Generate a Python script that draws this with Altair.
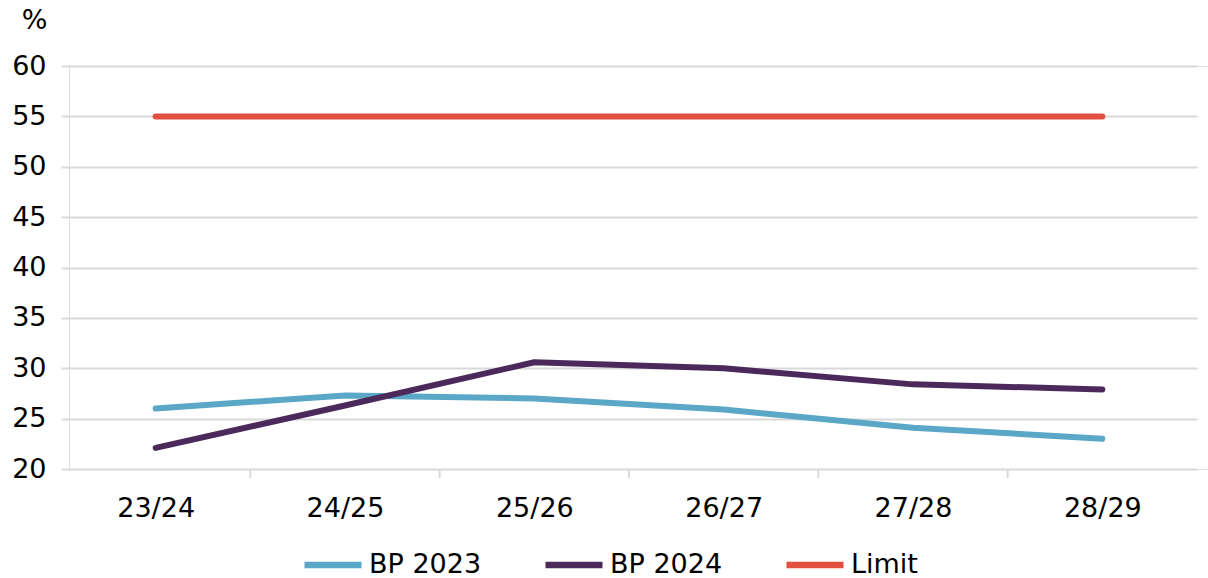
import altair as alt
import pandas as pd

# Fiscal years on the x axis
years = ["23/24", "24/25", "25/26", "26/27", "27/28", "28/29"]

# Series values, percent
bp_2023 = [26.0, 27.3, 27.0, 25.9, 24.1, 23.0]
bp_2024 = [22.1, 26.3, 30.6, 30.0, 28.4, 27.9]
limit = [55, 55, 55, 55, 55, 55]

series_names = ["BP 2023", "BP 2024", "Limit"]
series_colors = ["#5BA7C7", "#4B2A5B", "#E2513F"]

rows = []
for name, values in zip(series_names, [bp_2023, bp_2024, limit]):
    for yr, v in zip(years, values):
        rows.append({"year": yr, "series": name, "value": v})
df = pd.DataFrame(rows)

FONT = "DejaVu Sans"
FS = 27
W, H = 1139, 403

band_range = [-8, 1128]

lines = alt.Chart(df).mark_line(strokeWidth=6, strokeCap="round", strokeJoin="round").encode(
    x=alt.X("year:N", sort=years,
            scale=alt.Scale(domain=years, range=band_range, paddingInner=0, paddingOuter=0),
            axis=alt.Axis(title=None, domain=False, ticks=False, tickSize=0, grid=False,
                          labelFont=FONT, labelFontSize=FS, labelColor="#000000",
                          labelPadding=26, labelAngle=0, labelBaseline="top")),
    y=alt.Y("value:Q", scale=alt.Scale(domain=[20, 60], nice=False, zero=False),
            axis=alt.Axis(values=[20, 25, 30, 35, 40, 45, 50, 55, 60], title="%",
                          titleAngle=0, titleX=-35, titleY=-46, titleAlign="center",
                          titleBaseline="middle", titleFont=FONT, titleFontSize=FS,
                          titleFontWeight="normal", titleColor="#000000",
                          domain=False, ticks=False, tickSize=0,
                          labelFont=FONT, labelFontSize=FS, labelColor="#000000",
                          labelPadding=23, gridColor="#D9D9D9", gridWidth=2)),
    color=alt.Color("series:N",
                    scale=alt.Scale(domain=series_names, range=series_colors),
                    legend=alt.Legend(title=None, orient="none", direction="horizontal",
                                      legendX=232, legendY=467,
                                      symbolType="stroke", symbolSize=3250,
                                      symbolStrokeWidth=6.5, labelOffset=4,
                                      columnPadding=50,
                                      labelFont=FONT, labelFontSize=FS,
                                      labelColor="#000000")),
    detail="series:N",
)

# Small ticks between the fiscal-year categories
tick_df = pd.DataFrame({"year": years[1:]})
ticks = alt.Chart(tick_df).mark_rule(color="#D9D9D9", strokeWidth=2).encode(
    x=alt.X("year:N", sort=years, bandPosition=0,
            scale=alt.Scale(domain=years, range=band_range, paddingInner=0, paddingOuter=0),
            axis=None),
    y=alt.value(H),
    y2=alt.value(H + 9),
)

chart = alt.layer(ticks, lines).resolve_scale(x="independent").resolve_axis(x="independent").properties(
    width=W, height=H,
    autosize=alt.AutoSizeParams(type="none"),
    padding={"left": 69, "top": 66, "right": 0, "bottom": 109},
).configure_view(stroke=None).configure(background="#FFFFFF")

chart.save("out.html", embed_options={"renderer": "svg", "actions": False})
